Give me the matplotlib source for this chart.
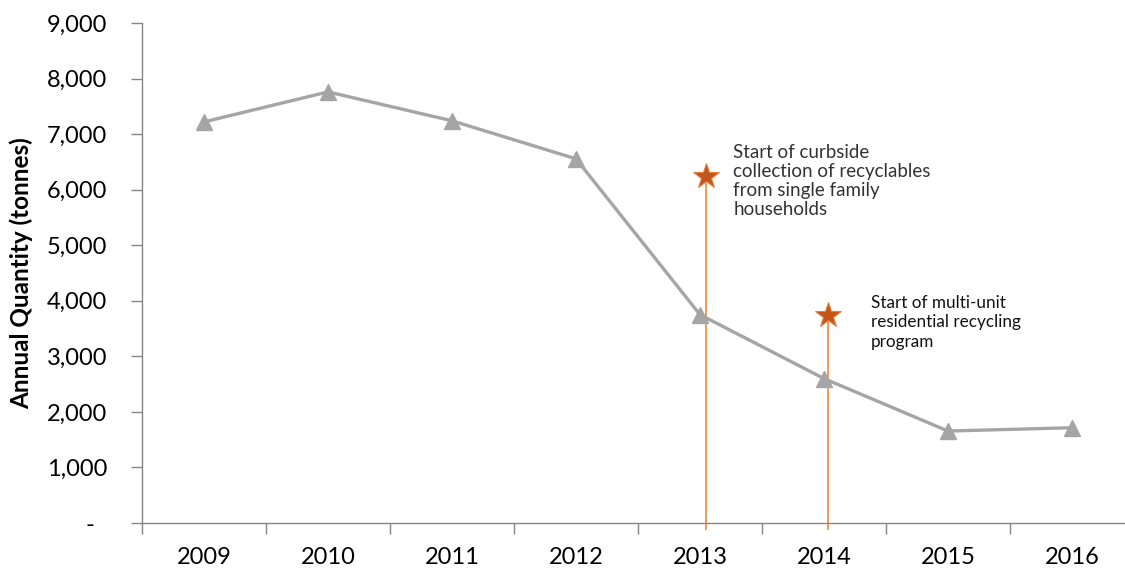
import numpy as np
import matplotlib.pyplot as plt
from matplotlib.ticker import FuncFormatter, MultipleLocator

years = ["2009", "2010", "2011", "2012", "2013", "2014", "2015", "2016"]
tonnes = [7220, 7760, 7240, 6555, 3750, 2600, 1655, 1715]

event_idx = [4, 5]
event_vals = [6250, 3750]
event_text = ["Start of curbside\ncollection of recyclables\nfrom single family\nhouseholds",
              "Start of multi-unit\nresidential recycling\nprogram"]

plt.rcParams['font.family'] = ['Lato', 'DejaVu Sans']

fig = plt.figure(figsize=(11.25, 5.71), dpi=100)
ax = fig.add_axes([142/1125, 48/571, 992/1125, 500/571])

x = np.arange(len(years))
ax.plot(x, tonnes, color="#A5A5A5", linewidth=2.4, marker="^", markersize=11,
        markerfacecolor="#A5A5A5", markeredgecolor="#A5A5A5", zorder=3)

# event markers: star with thin line dropping past the axis
ex = np.array(event_idx) + np.array([0.05, 0.03])
ax.vlines(ex, -130, event_vals, color="#F0893A", linewidth=1.2, clip_on=False, zorder=2)
ax.plot(ex, event_vals, linestyle="none", marker="*", markersize=19,
        markerfacecolor="#C0561B", markeredgecolor="#E8803D", markeredgewidth=0.8, zorder=4)

ax.text(4.27, 6820, event_text[0], fontsize=13.5, color="#333333", va="top", ha="left",
        linespacing=1.15)
ax.text(5.38, 4110, event_text[1], fontsize=12.3, color="#111111", va="top", ha="left",
        linespacing=1.28)

ax.set_xlim(-0.5, 7.5)
ax.set_ylim(0, 9000)
ax.yaxis.set_major_locator(MultipleLocator(1000))
ax.yaxis.set_major_formatter(FuncFormatter(lambda v, p: "-  " if v == 0 else f"{v:,.0f}"))

ax.set_xticks(x)
ax.set_xticklabels(years)
ax.set_xticks(np.arange(-0.5, 8, 1), minor=True)
ax.tick_params(axis="x", which="major", length=0, pad=17, labelsize=17)
ax.tick_params(axis="x", which="minor", length=8, width=1, color="#868686", direction="out")
ax.tick_params(axis="y", length=8, width=1, color="#868686", pad=17, labelsize=17)

for s in ["top", "right"]:
    ax.spines[s].set_visible(False)
for s in ["left", "bottom"]:
    ax.spines[s].set_color("#868686")
    ax.spines[s].set_linewidth(1)

ax.set_ylabel("Annual Quantity (tonnes)", fontsize=17.5, fontweight="bold")
ax.yaxis.set_label_coords(-0.11, 0.5)

fig.savefig("out.png", dpi=100)
